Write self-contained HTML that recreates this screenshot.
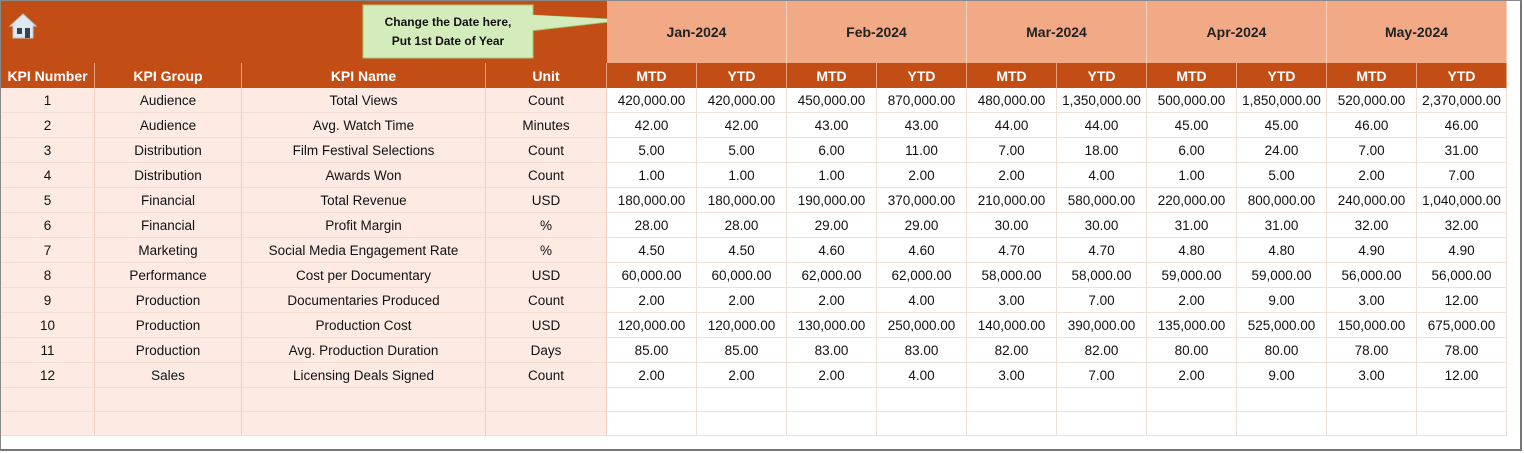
<!DOCTYPE html>
<html><head><style>
body{margin:0;width:1524px;height:453px;background:#fff;position:relative;overflow:hidden;font-family:"Liberation Sans",Arial,sans-serif;}
.c{position:absolute;box-sizing:border-box;display:flex;align-items:center;justify-content:center;font-size:13.5px;color:#111;}
.h{background:#C24E16;color:#fff;font-weight:bold;font-size:14px;border-right:1px solid #e8a080;}
.m{background:#F2A985;color:#222;font-weight:bold;font-size:14px;border-right:1px solid #f8d0bc;}
.l{background:#FCEAE3;border-right:1px solid #ecd0c4;border-bottom:1px solid #f3dcd2;}
.d{background:#fff;border-right:1px solid #eee0d8;border-bottom:1px solid #eee0d8;}
</style></head><body>
<div style="position:absolute;left:0;top:0;width:1522px;height:451px;border:1px solid #888;border-right:2px solid #777;border-bottom:2px solid #777;box-sizing:border-box"></div>
<div class="c" style="left:1px;top:1px;width:606px;height:62px;background:#C24E16"></div>
<svg style="position:absolute;left:8px;top:12px" width="30" height="28" viewBox="0 0 30 28"><path d="M15 2 L28 14 L25 14 L25 26 L5 26 L5 14 L2 14 Z" fill="#dfe8ef" stroke="#b9c6cf"/><rect x="9" y="16" width="5" height="6" fill="#345"/><rect x="17" y="16" width="5" height="10" fill="#345"/></svg>
<svg style="position:absolute;left:360px;top:3px" width="270" height="58"><polygon points="170,12 265,17 170,28" fill="#cfe8b6" stroke="#9ccc7a"/><rect x="3" y="2" width="170" height="53" fill="#d4ecbc" stroke="#9ccc7a"/><polygon points="172,12 263,17 172,27" fill="#d4ecbc"/></svg>
<div class="c" style="left:363px;top:5px;width:170px;height:53px;font-weight:bold;font-size:12px;line-height:19px;text-align:center;flex-direction:column">Change the Date here,<br>Put 1st Date of Year</div>
<div id="g"></div>
<div style="position:absolute;left:1px;top:411px;width:606px;height:1px;background:#f3dcd2"></div>
<div style="position:absolute;left:607px;top:411px;width:900px;height:1px;background:#eee0d8"></div>
<script>
var cols=[[1,95],[95,242],[242,486],[486,607]];
var months=["Jan-2024","Feb-2024","Mar-2024","Apr-2024","May-2024"];
var rows=[
[1,"Audience","Total Views","Count","420,000.00","420,000.00","450,000.00","870,000.00","480,000.00","1,350,000.00","500,000.00","1,850,000.00","520,000.00","2,370,000.00"],
[2,"Audience","Avg. Watch Time","Minutes","42.00","42.00","43.00","43.00","44.00","44.00","45.00","45.00","46.00","46.00"],
[3,"Distribution","Film Festival Selections","Count","5.00","5.00","6.00","11.00","7.00","18.00","6.00","24.00","7.00","31.00"],
[4,"Distribution","Awards Won","Count","1.00","1.00","1.00","2.00","2.00","4.00","1.00","5.00","2.00","7.00"],
[5,"Financial","Total Revenue","USD","180,000.00","180,000.00","190,000.00","370,000.00","210,000.00","580,000.00","220,000.00","800,000.00","240,000.00","1,040,000.00"],
[6,"Financial","Profit Margin","%","28.00","28.00","29.00","29.00","30.00","30.00","31.00","31.00","32.00","32.00"],
[7,"Marketing","Social Media Engagement Rate","%","4.50","4.50","4.60","4.60","4.70","4.70","4.80","4.80","4.90","4.90"],
[8,"Performance","Cost per Documentary","USD","60,000.00","60,000.00","62,000.00","62,000.00","58,000.00","58,000.00","59,000.00","59,000.00","56,000.00","56,000.00"],
[9,"Production","Documentaries Produced","Count","2.00","2.00","2.00","4.00","3.00","7.00","2.00","9.00","3.00","12.00"],
[10,"Production","Production Cost","USD","120,000.00","120,000.00","130,000.00","250,000.00","140,000.00","390,000.00","135,000.00","525,000.00","150,000.00","675,000.00"],
[11,"Production","Avg. Production Duration","Days","85.00","85.00","83.00","83.00","82.00","82.00","80.00","80.00","78.00","78.00"],
[12,"Sales","Licensing Deals Signed","Count","2.00","2.00","2.00","4.00","3.00","7.00","2.00","9.00","3.00","12.00"],
["","","","","","","","","","","","","",""],["","","","","","","","","","","","","",""]];
for(var i=0;i<10;i++)cols.push([607+90*i,697+90*i]);
var h="";
months.forEach(function(m,i){h+='<div class="c m" style="left:'+(607+180*i)+'px;top:1px;width:180px;height:62px">'+m+'</div>';});
var hd=["KPI Number","KPI Group","KPI Name","Unit"];
cols.forEach(function(c,j){h+='<div class="c h" style="left:'+c[0]+'px;top:63px;width:'+(c[1]-c[0])+'px;height:25px">'+(j<4?hd[j]:(j%2==0?"MTD":"YTD"))+'</div>';});
rows.forEach(function(r,i){var y=88+25*i;var hh=i==13?24:25;if(i==13)y=412;if(i==12)hh=24;
cols.forEach(function(c,j){h+='<div class="c '+(j<4?'l':'d')+'" style="left:'+c[0]+'px;top:'+y+'px;width:'+(c[1]-c[0])+'px;height:'+hh+'px">'+r[j]+'</div>';});});
document.getElementById("g").innerHTML=h;
</script>
</body></html>
